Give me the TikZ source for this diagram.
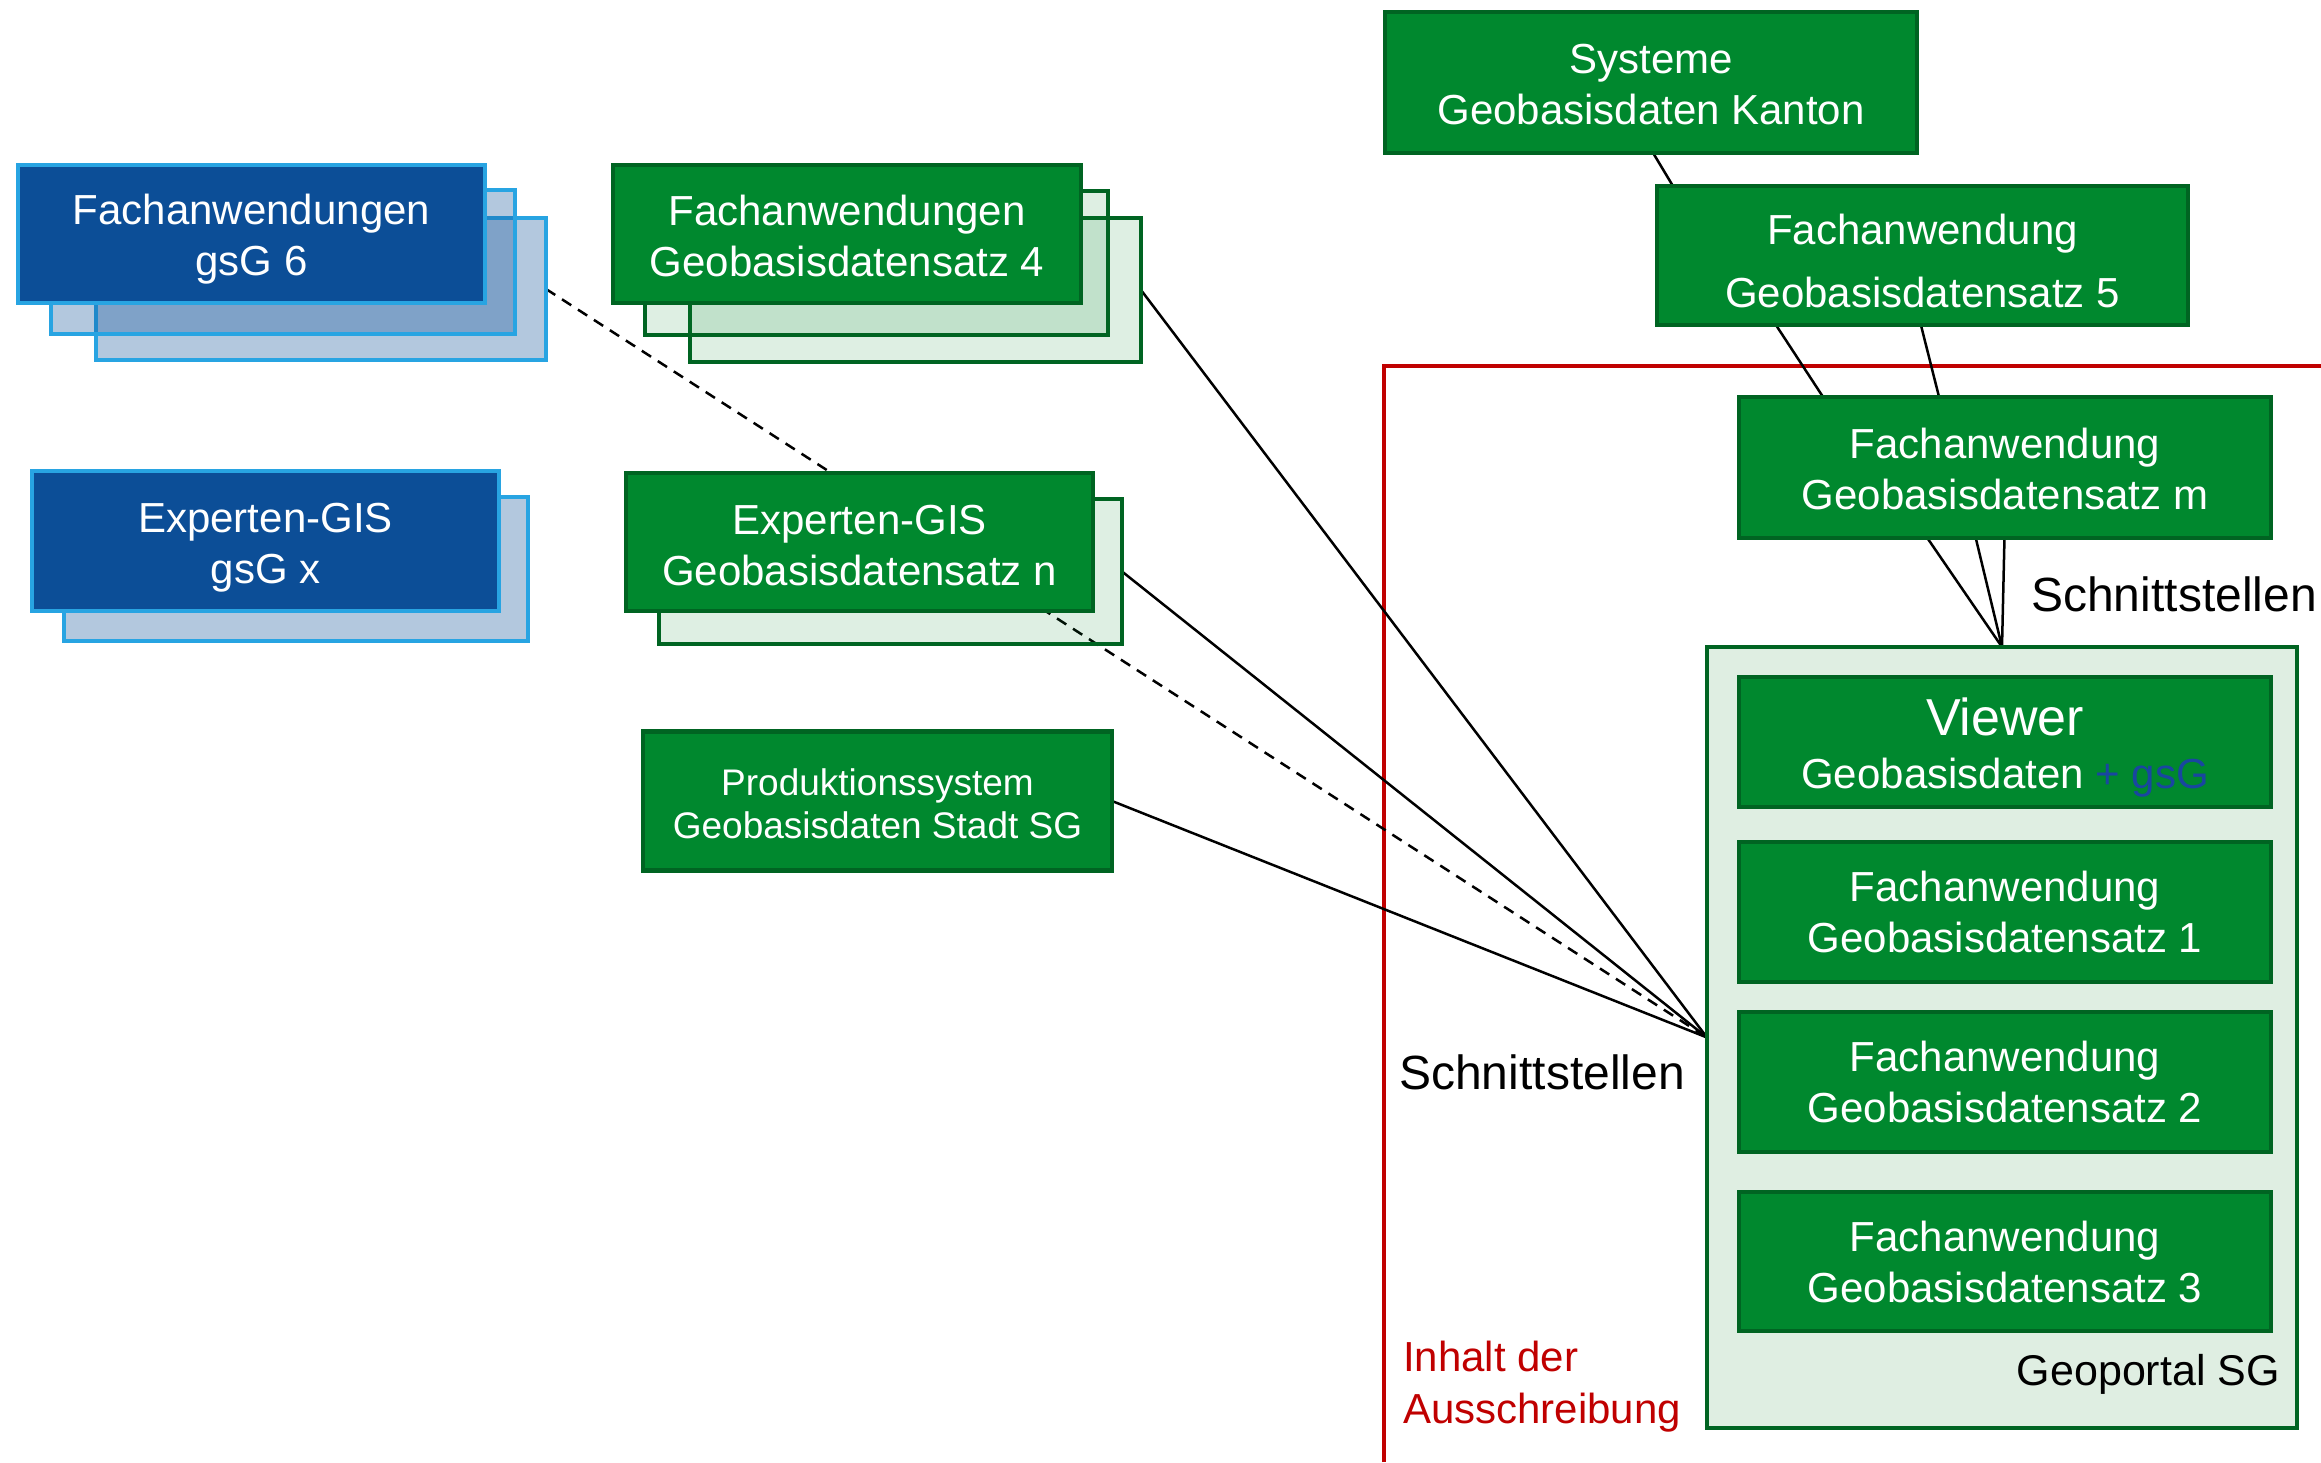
\documentclass[tikz,border=0pt]{standalone}
\usepackage{fontspec}
\setmainfont{Liberation Sans}
\usetikzlibrary{calc}
\definecolor{gfill}{RGB}{0,136,46}
\definecolor{gdraw}{RGB}{0,100,34}
\definecolor{bfill}{RGB}{12,78,151}
\definecolor{bdraw}{RGB}{40,164,226}
\definecolor{geofill}{RGB}{223,238,226}
\definecolor{redline}{RGB}{192,0,0}
\definecolor{plusblue}{RGB}{25,70,160}
\newcommand\tsh[1]{\rule{0pt}{#1}}
\tikzset{
 box/.style={rectangle, line width=4.5pt, inner sep=0pt, outer sep=0pt, align=center, text=white, font=\fontsize{42}{51}\selectfont},
 gbox/.style={box, draw=gdraw, fill=gfill},
 gback/.style={box, draw=gdraw, fill=gfill, fill opacity=0.13},
 bbox/.style={box, draw=bdraw, fill=bfill},
 bback/.style={box, draw=bdraw, fill=bfill, fill opacity=0.31},
 conn/.style={line width=2.5pt, black},
 dconn/.style={conn, dash pattern=on 11pt off 8pt},
 lbl/.style={font=\fontsize{48}{56}\selectfont, inner sep=0pt, outer sep=0pt},
 anch/.style={inner sep=0pt, outer sep=0pt},
}
\begin{document}
\begin{tikzpicture}[x=1pt,y=-1pt]
\useasboundingbox[fill=white] (0,0) rectangle (2321,1462);

% red boundary
\draw[redline, line width=4.5pt] (1384,1462) -- (1384,366) -- (2321,366);

% anchor nodes for connectors (drawn later)
\path
 (321,289) node[anch, minimum width=450pt, minimum height=142pt] (f6b2) {}
 (915.5,290) node[anch, minimum width=451pt, minimum height=144pt] (f4b2) {}
 (890.5,571.5) node[anch, minimum width=463pt, minimum height=145pt] (egnb) {}
 (877.5,801) node[anch, minimum width=469pt, minimum height=139pt] (prod) {}
 (2002,1037.5) node[anch, minimum width=590pt, minimum height=781pt] (geo) {}
 (1651,82.5) node[anch, minimum width=532pt, minimum height=141pt] (sys) {}
 (1922.5,255.5) node[anch, minimum width=531pt, minimum height=139pt] (f5) {}
 (2005,467.5) node[anch, minimum width=532pt, minimum height=141pt] (fm) {};

% connectors
\draw[dconn] (f6b2.east) -- (geo.west);
\draw[conn] (f4b2.east) -- (geo.west);
\draw[conn] (egnb.east) -- (geo.west);
\draw[conn] (prod.east) -- (geo.west);
\draw[conn] ($(sys.south west)!0.504!(sys.south east)$) -- ($(f5.north west)!0.03!(f5.north east)$);
\draw[conn] ($(f5.south west)!0.224!(f5.south east)$) -- ($(fm.north west)!0.158!(fm.north east)$);
\draw[conn] ($(f5.south west)!0.497!(f5.south east)$) -- ($(fm.north west)!0.376!(fm.north east)$);
\draw[conn] ($(fm.south west)!0.354!(fm.south east)$) -- (geo.north);
\draw[conn] ($(fm.south west)!0.445!(fm.south east)$) -- (geo.north);
\draw[conn] ($(fm.south west)!0.499!(fm.south east)$) -- (geo.north);

% blue stacks
\node[bback, minimum width=450pt, minimum height=142pt] (f6b2v) at (321,289) {};
\node[bback, minimum width=464pt, minimum height=144pt] (f6b1) at (283,262) {};
\node[bbox, minimum width=467pt, minimum height=138pt] (f6) at (251.5,234) {\tsh{41pt}Fachanwendungen\\gsG 6};
\node[bback, minimum width=464pt, minimum height=144pt] (egxb) at (296,569) {};
\node[bbox, minimum width=467pt, minimum height=140pt] (egx) at (265.5,541) {\tsh{43pt}Experten-GIS\\gsG x};

% green stacks
\node[gback, minimum width=451pt, minimum height=144pt] (f4b2v) at (915.5,290) {};
\node[gback, minimum width=463pt, minimum height=144pt] (f4b1) at (876.5,263) {};
\node[gbox, minimum width=468pt, minimum height=138pt] (f4) at (847,234) {\tsh{35pt}Fachanwendungen\\Geobasisdatensatz 4};
\node[gback, minimum width=463pt, minimum height=145pt] (egnbv) at (890.5,571.5) {};
\node[gbox, minimum width=467pt, minimum height=138pt] (egn) at (859.5,542) {\tsh{37pt}Experten-GIS\\Geobasisdatensatz n};
\node[gbox, minimum width=469pt, minimum height=139pt, font=\fontsize{37}{43}\selectfont] (prodv) at (877.5,801) {\tsh{33pt}Produktionssystem\\Geobasisdaten Stadt SG};

% right column
\node[gbox, minimum width=532pt, minimum height=141pt] (sysv) at (1651,82.5) {\tsh{34pt}Systeme\\Geobasisdaten Kanton};
\node[gbox, minimum width=531pt, minimum height=139pt] (f5v) at (1922.5,255.5) {\tsh{41pt}Fachanwendung\\[12pt]Geobasisdatensatz 5};
\node[gbox, minimum width=532pt, minimum height=141pt] (fmv) at (2005,467.5) {\tsh{33pt}Fachanwendung\\Geobasisdatensatz m};

% geoportal
\node[rectangle, draw=gdraw, fill=geofill, line width=4pt, minimum width=590pt, minimum height=781pt, inner sep=0, outer sep=0] (geov) at (2002,1037.5) {};
\node[gbox, minimum width=532pt, minimum height=130pt] (viewer) at (2005,742) {{\fontsize{52}{52}\selectfont\tsh{48pt}Viewer}\\[2pt]Geobasisdaten \textcolor{plusblue}{+ gsG}};
\node[gbox, minimum width=532pt, minimum height=140pt] (fa1) at (2005,912) {Fachanwendung\\Geobasisdatensatz 1};
\node[gbox, minimum width=532pt, minimum height=140pt] (fa2) at (2005,1082) {Fachanwendung\\Geobasisdatensatz 2};
\node[gbox, minimum width=532pt, minimum height=139pt] (fa3) at (2005,1261.5) {Fachanwendung\\Geobasisdatensatz 3};
\node[font=\fontsize{43}{50}\selectfont, anchor=east, inner sep=0] (gsg) at (2280,1374) {Geoportal SG};

% labels
\node[lbl] (sl) at (1542,1072) {Schnittstellen};
\node[lbl] (sr) at (2174,594) {Schnittstellen};
\node[font=\fontsize{42}{52}\selectfont, text=redline, align=left, anchor=west, inner sep=0] (inh) at (1403,1387) {Inhalt der\\Ausschreibung};
\end{tikzpicture}
\end{document}
